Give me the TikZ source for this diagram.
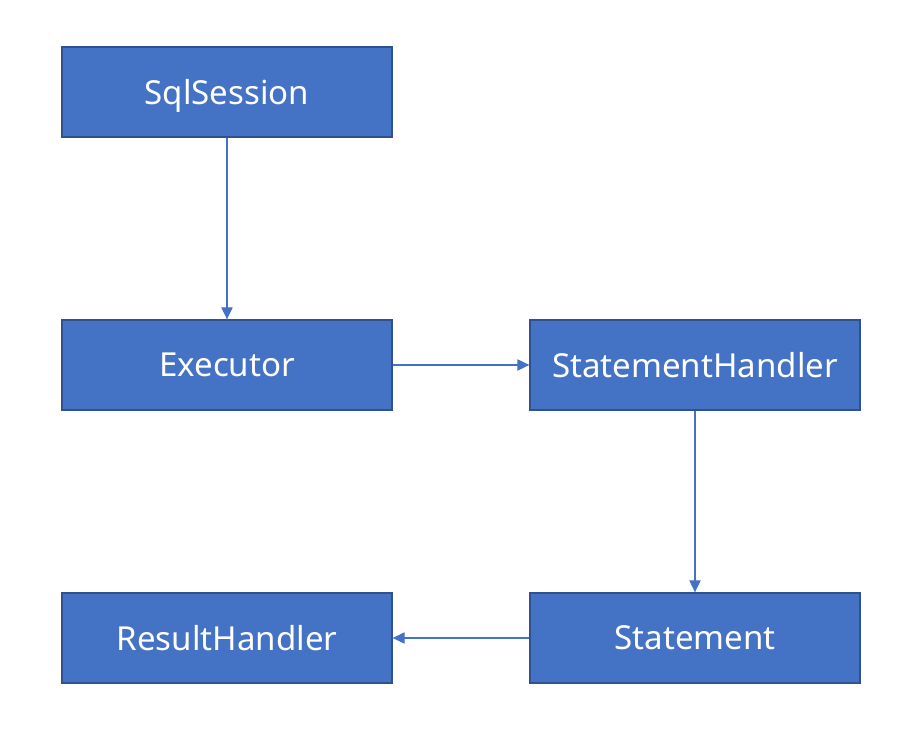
\documentclass[tikz,border=0pt]{standalone}
\usepackage{fontspec}
\setmainfont{Noto Sans}
\usetikzlibrary{arrows.meta}
\definecolor{boxfill}{HTML}{4472C4}
\definecolor{boxline}{HTML}{2F528F}
\begin{document}
\begin{tikzpicture}[x=0.75pt,y=-0.75pt,
  box/.style={draw=boxline,fill=boxfill,line width=1pt,minimum width=247.5pt,minimum height=67.5pt,inner sep=0pt,text=white,font=\fontsize{24.8}{28}\selectfont,text depth=0pt},
  conn/.style={draw=boxfill,line width=0.8pt,-{Triangle[length=9pt,width=8.5pt]}}]
\useasboundingbox (0,0) rectangle (921,737);
\node[box] (sql) at (227,92) {SqlSession};
\node[box] (exe) at (227,365) {Executor};
\node[box] (sh) at (695,365) {StatementHandler};
\node[box] (res) at (227,638) {ResultHandler};
\node[box] (st) at (695,638) {Statement};
\draw[conn] (sql) -- (exe);
\draw[conn] (exe) -- (sh);
\draw[conn] (sh) -- (st);
\draw[conn] (st) -- (res);
\end{tikzpicture}
\end{document}
